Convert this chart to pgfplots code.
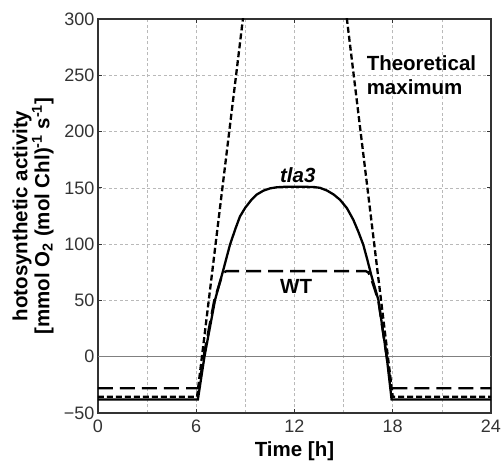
\documentclass[border=0pt]{standalone}
\usepackage{fontspec}
\setmainfont{Liberation Sans}
\usepackage{pgfplots}
\pgfplotsset{compat=1.18}
\usetikzlibrary{calc}

\begin{document}
\begin{tikzpicture}
\begin{axis}[
  scale only axis,
  width=393bp, height=394bp,
  xmin=0, xmax=24, ymin=-50, ymax=300,
  xtick={0,6,...,24},
  minor xtick={3,9,15,21},
  ytick={-50,0,...,300},
  yticklabels={−50,0,50,100,150,200,250,300},
  grid=both,
  major grid style={gray!55, dash pattern=on 3bp off 2.5bp, line width=0.7bp},
  minor grid style={gray!55, dash pattern=on 3bp off 2.5bp, line width=0.7bp},
  axis line style={line width=2.6bp, black!80},
  tick style={black!80, line width=1bp},
  tick align=inside,
  major tick length=4bp, minor tick length=0bp,
  tick label style={font=\fontsize{18bp}{18bp}\selectfont, black!80},
  xticklabel style={yshift=-3bp},
  /pgf/number format/assume math mode=true,
  xlabel={Time [h]},
  xlabel style={font=\fontsize{20.5bp}{20.5bp}\selectfont\bfseries, at={(axis description cs:0.5,0)}, anchor=center, yshift=-38bp},
  ylabel={hotosynthetic activity\\{[}mmol O\textsubscript{2} (mol Chl)\textsuperscript{-1} s\textsuperscript{-1}]},
  ylabel style={font=\fontsize{20.5bp}{22bp}\selectfont\bfseries, align=center, at={(axis description cs:-0.165,0.5)}, anchor=center},
]
% zero line
\addplot[gray, line width=0.8bp] coordinates {(0,0) (24,0)};

% theoretical maximum
\addplot[black, line width=2.3bp, dash pattern=on 6bp off 3bp] coordinates {
  (0,-35.5) (6.05,-35.5) (9.5,378) (14.55,378) (18.0,-35.5) (24,-35.5)};

% WT
\addplot[black, line width=2.4bp, dash pattern=on 15bp off 7bp] coordinates {
  (0,-28) (6.15,-28) (6.45,0) (7.1,50) (7.55,71) (7.7,75) (7.85,76)
  (16.35,76) (16.5,75) (16.65,71) (17.12,50) (17.63,0) (17.93,-28) (24,-28)};

% tla3
\addplot[black, line width=2.3bp] coordinates {
  (0,-38) (6.1,-38) (6.5,0) (7.15,50.6) (7.65,77) (8.06,99.5) (8.4,114)
  (8.67,124.6) (9.0,132.5) (9.35,139) (9.69,144) (10.1,147.5) (10.5,149.5)
  (10.9,150.5) (11.5,151) (12.5,151) (13.2,150.7) (13.56,150) (14.0,147.5)
  (14.4,144) (14.78,139.4) (15.2,132) (15.59,121.7) (15.9,111) (16.2,99.5)
  (16.45,86) (16.71,71.3) (17.12,50.6) (17.63,0) (17.93,-38) (24,-38)};

\node[font=\fontsize{20.5bp}{20.5bp}\selectfont\bfseries\itshape] at (axis cs:12.2,161.6) {tla3};
\node[font=\fontsize{20.5bp}{20.5bp}\selectfont\bfseries] at (axis cs:12.1,62) {WT};
\node[font=\fontsize{20.5bp}{24bp}\selectfont\bfseries, align=left, anchor=north west, inner sep=0pt] at (axis cs:16.4,268) {Theoretical\\maximum};
\end{axis}
\pgfresetboundingbox
\path[use as bounding box] ($(current axis.south west)+(-98bp,-50bp)$) rectangle ($(current axis.north east)+(12bp,19bp)$);
\end{tikzpicture}
\end{document}
